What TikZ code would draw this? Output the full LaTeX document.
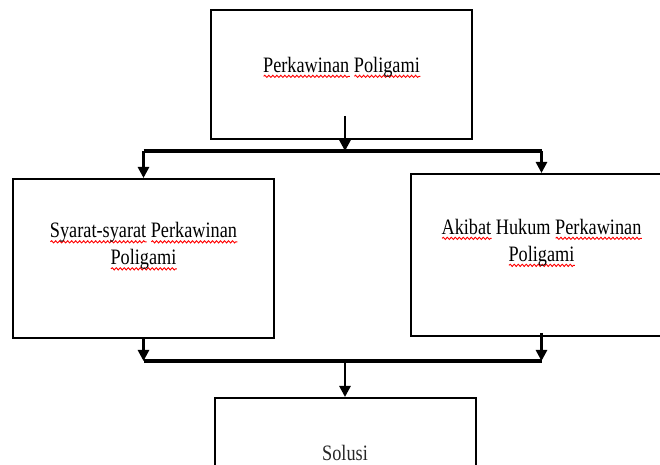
\documentclass[tikz,border=0pt]{standalone}
\usepackage{fontspec}
\setmainfont{Liberation Serif}[FakeStretch=0.83]
\usepackage{tikz}
\usetikzlibrary{arrows.meta,positioning,decorations.pathmorphing}
% red wavy spell-check line under a word
\newcommand\salah[1]{\setbox0\hbox{#1}\leavevmode\rlap{\tikz[baseline=0pt]\draw[red, line width=0.45pt, decorate, decoration={snake, amplitude=0.55pt, segment length=2pt}] (0pt,-2pt) -- (\the\wd0,-2pt);}\box0\relax}
\tikzset{
    %Define standard arrow tip
    >={Triangle[width=5.5pt,length=5.5pt]},
    %Define style for boxes
    kotak/.style={
           rectangle,
           draw=black, line width=1pt,
           minimum width=130.5pt,
           minimum height=64.5pt,
           align=center,
           text depth=9.8pt,
           font=\fontsize{11}{13.5}\selectfont},
    duabaris/.style={
           kotak,
           text depth=14.8pt},
    % Define arrow style
    panah/.style={
           ->,
           line width=1.3pt},
    palang/.style={
           line width=2pt}
}

\begin{document}
\begin{tikzpicture}[node distance=1cm]
 \useasboundingbox (0,0) rectangle (330pt,-232.5pt);
 \clip (0,0) rectangle (330pt,-232.5pt);
 %nodes
\node[kotak] (perkawinan) at (170.75pt,-37.25pt) {\salah{Perkawinan} \salah{Poligami}};
\node[duabaris, minimum height=79.5pt, below left=19pt and 33.25pt of perkawinan.south] (syarat) {\salah{Syarat-syarat} \salah{Perkawinan}\\ \salah{Poligami}};
\node[duabaris, minimum height=81pt, below right=16.5pt and 34.25pt of perkawinan.south] (akibat) {\salah{Akibat} Hukum \salah{Perkawinan}\\ \salah{Poligami}};
 %branch points
\coordinate[below=5.5pt of perkawinan.south, xshift=1.75pt] (cabang);
\coordinate (gabung) at ([yshift=-11pt]syarat.south -| cabang);
\node[kotak, text=black!85, below=18pt of gabung] (solusi) {Solusi};
 %connectors
\draw[panah] ([yshift=12pt]cabang |- perkawinan.south) -- (cabang);
\draw[palang] (syarat.north |- cabang) -- (akibat.north |- cabang);
\draw[panah] (syarat.north |- cabang) -- (syarat.north);
\draw[panah] (akibat.north |- cabang) -- (akibat.north);
\draw[panah] (syarat.south) -- (syarat.south |- gabung);
\draw[panah] ([yshift=2pt]akibat.south) -- (akibat.south |- gabung);
\draw[palang] (syarat.south |- gabung) -- (akibat.south |- gabung);
\draw[panah] (gabung) -- (solusi);
\end{tikzpicture}
\end{document}
